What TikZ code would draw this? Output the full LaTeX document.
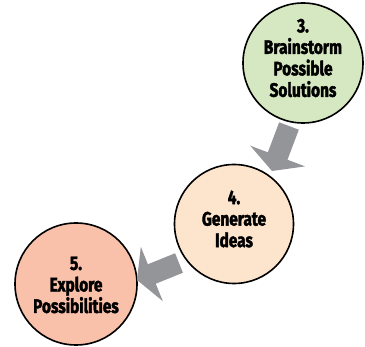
\documentclass[tikz,border=0pt]{standalone}
\usepackage{fontspec}
\setmainfont{Fira Sans}[FakeStretch=0.79,BoldFeatures={FakeBold=2}]
\usetikzlibrary{arrows.meta}
\definecolor{cgreen}{RGB}{214,232,193}
\definecolor{cpeach}{RGB}{253,228,204}
\definecolor{csalmon}{RGB}{249,192,170}
\definecolor{cgrayarrow}{RGB}{148,149,153}
\begin{document}
\begin{tikzpicture}[x=1pt,y=-1pt,
  stepcircle/.style={circle,draw=black,line width=1.6pt,minimum size=120pt,inner sep=0pt},
  steptext/.style={align=center,inner sep=0pt,font=\fontsize{19.5}{21.5}\selectfont\bfseries},
  blockarrow/.style={draw=cgrayarrow,line width=21pt,
    -{Triangle[width=58pt,length=16pt]}}]
\useasboundingbox (0,0) rectangle (365,347);
\node[stepcircle,fill=cgreen] (c3) at (303,63) {};
\node[stepcircle,fill=cpeach,minimum size=119pt] (c4) at (234,224) {};
\node[stepcircle,fill=csalmon,minimum size=122pt] (c5) at (76,284) {};
\node[steptext] (t3) at (303,58) {3.\\Brainstorm\\Possible\\Solutions};
\node[steptext] (t4) at (234,219) {4.\\Generate\\Ideas};
\node[steptext] (t5) at (76,285) {5.\\Explore\\Possibilities};
\coordinate (a1s) at (289,126);
\coordinate (a1e) at (272,171);
\coordinate (a2s) at (179,263);
\coordinate (a2e) at (137,280);
\draw[blockarrow] (a1s) -- (a1e);
\draw[blockarrow] (a2s) -- (a2e);
\end{tikzpicture}
\end{document}
